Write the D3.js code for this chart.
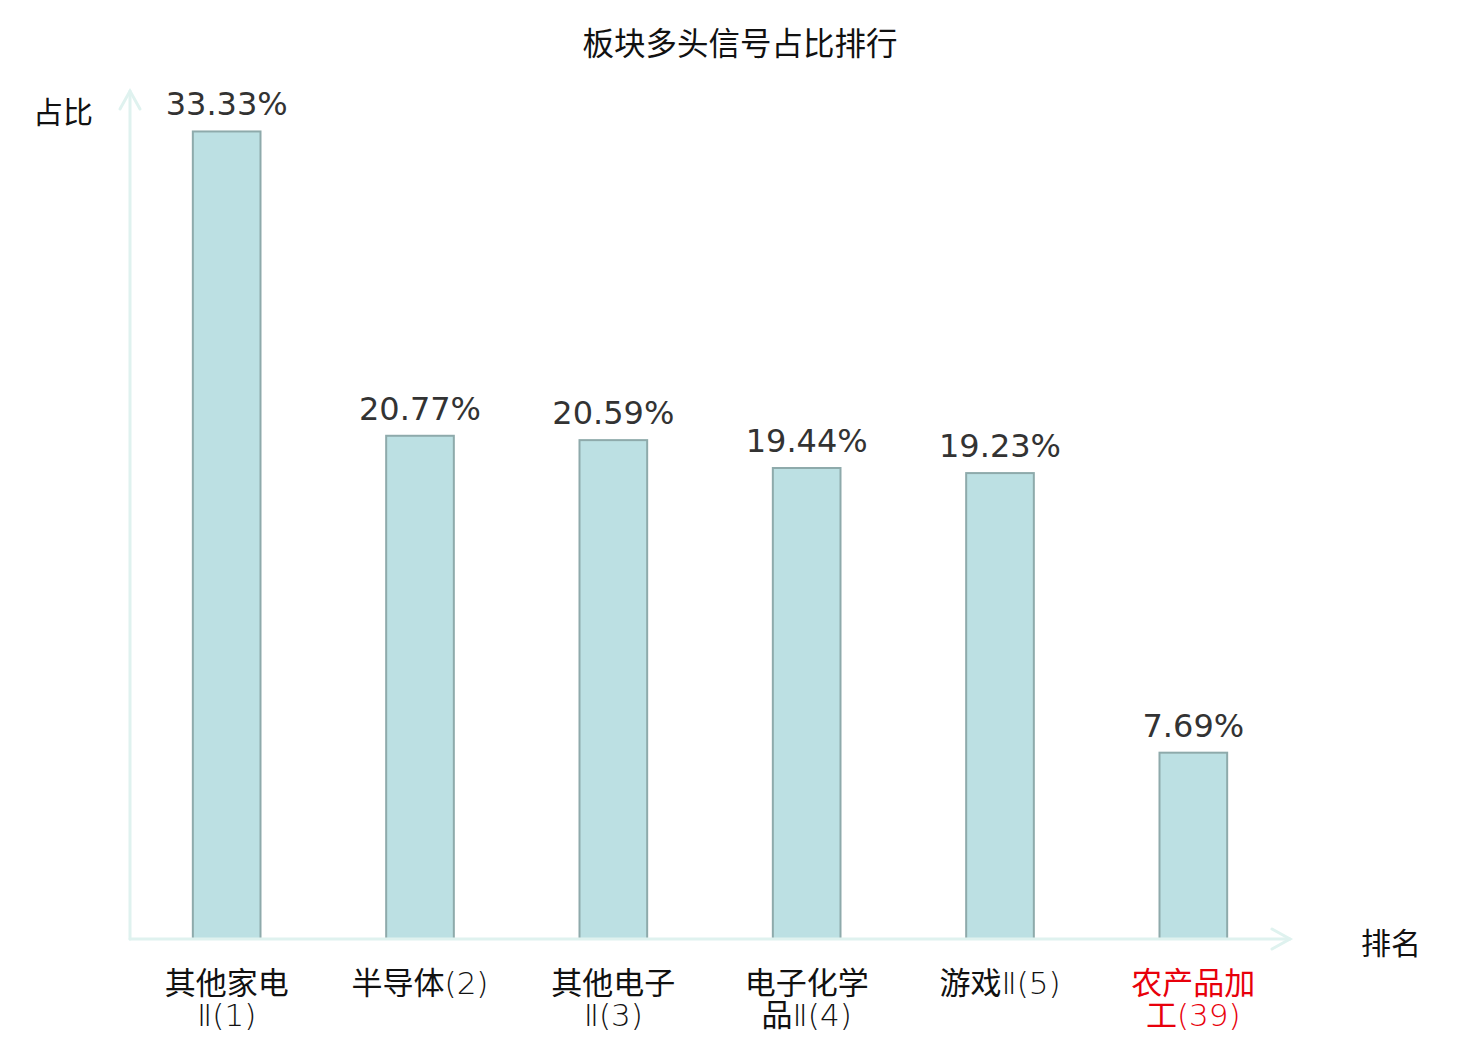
<!DOCTYPE html>
<html>
<head>
<meta charset="utf-8">
<script src="https://cdn.jsdelivr.net/npm/d3@7"></script>
<style>
  body { margin: 0; background: #fff; }
  svg { display: block; }
</style>
</head>
<body>
<svg id="chart" width="1480" height="1040"></svg>
<script>
// data
const categories = ["其他家电Ⅱ", "半导体", "其他电子Ⅱ", "电子化学品Ⅱ", "游戏Ⅱ", "农产品加工"];
const ranks = [1, 2, 3, 4, 5, 39];
const values = [33.33, 20.77, 20.59, 19.44, 19.23, 7.69];
const highlighted = [false, false, false, false, false, true];
const yMax = 35;

const svg = d3.select("#chart");
const margin = { left: 130, right: 190, top: 91, bottom: 101 };
const width = 1480, height = 1040;

const x = d3.scaleBand()
  .domain(d3.range(categories.length))
  .range([margin.left, width - margin.right])
  .paddingInner(0.65)
  .paddingOuter(0.325);

const y = d3.scaleLinear()
  .domain([0, yMax])
  .range([height - margin.bottom, margin.top]);

const axisColor = "#dff2ef";
const y0 = y(0);
const labelFont = "'DejaVu Sans', 'Noto Sans CJK SC', sans-serif";

// title
svg.append("text")
  .attr("x", 740).attr("y", 41)
  .attr("text-anchor", "middle").attr("dominant-baseline", "central")
  .attr("font-family", "Noto Sans CJK SC").attr("font-size", 31.5)
  .attr("fill", "#111")
  .text("板块多头信号占比排行");

// bars
svg.append("g").selectAll("rect")
  .data(values)
  .join("rect")
  .attr("x", (d, i) => x(i))
  .attr("y", d => y(d))
  .attr("width", x.bandwidth())
  .attr("height", d => y0 - y(d))
  .attr("fill", "#bce0e3")
  .attr("stroke", "#8eaaab")
  .attr("stroke-width", 2);

// value labels
svg.append("g").selectAll("text")
  .data(values)
  .join("text")
  .attr("x", (d, i) => x(i) + x.bandwidth() / 2)
  .attr("y", d => y(d) - 16)
  .attr("text-anchor", "middle")
  .attr("font-family", "DejaVu Sans").attr("font-size", 32)
  .attr("fill", "#333")
  .text(d => d.toFixed(2) + "%");

// axes
const xEnd = width - margin.right;
const axes = svg.append("g")
  .attr("stroke", axisColor).attr("stroke-width", 3).attr("fill", "none")
  .attr("stroke-linecap", "round");
axes.append("line").attr("x1", margin.left).attr("x2", xEnd).attr("y1", y0).attr("y2", y0);
axes.append("path").attr("d", `M${xEnd - 18},${y0 - 10}L${xEnd},${y0}L${xEnd - 18},${y0 + 10}`);
const yTop = y(yMax);
axes.append("line").attr("x1", margin.left).attr("x2", margin.left).attr("y1", y0).attr("y2", yTop);
axes.append("path").attr("d", `M${margin.left - 10},${yTop + 18}L${margin.left},${yTop}L${margin.left + 10},${yTop + 18}`);

// axis names
svg.append("text")
  .attr("x", 63).attr("y", 110)
  .attr("text-anchor", "middle").attr("dominant-baseline", "central")
  .attr("font-family", "Noto Sans CJK SC").attr("font-size", 30).attr("fill", "#111")
  .text("占比");
svg.append("text")
  .attr("x", 1391).attr("y", 941)
  .attr("text-anchor", "middle").attr("dominant-baseline", "central")
  .attr("font-family", "Noto Sans CJK SC").attr("font-size", 30).attr("fill", "#111")
  .text("排名");

// category labels, wrapped after 4 characters when long
function labelLines(name, rank) {
  const s = name + "(" + rank + ")";
  const chars = Array.from(s);
  if (chars.length <= 6) return [s];
  return [chars.slice(0, 4).join(""), chars.slice(4).join("")];
}

// split a line into CJK / non-CJK runs so the latin part can be thin
function runs(line) {
  const out = [];
  Array.from(line).forEach(ch => {
    const cjk = /[\u4e00-\u9fff]/.test(ch);
    const last = out[out.length - 1];
    if (last && last.cjk === cjk) last.text += ch;
    else out.push({ cjk, text: ch });
  });
  return out;
}

const catG = svg.append("g");
categories.forEach((name, i) => {
  const cx = x(i) + x.bandwidth() / 2;
  labelLines(name, ranks[i]).forEach((line, k) => {
    const t = catG.append("text")
      .attr("x", cx)
      .attr("y", 983 + k * 32)
      .attr("text-anchor", "middle")
      .attr("dominant-baseline", "central")
      .attr("font-family", labelFont).attr("font-size", 31)
      .attr("fill", highlighted[i] ? "#e8000b" : "#111");
    runs(line).forEach(r => {
      t.append("tspan")
        .attr("font-weight", r.cjk ? 400 : 200)
        .text(r.text);
    });
  });
});
</script>
</body>
</html>
